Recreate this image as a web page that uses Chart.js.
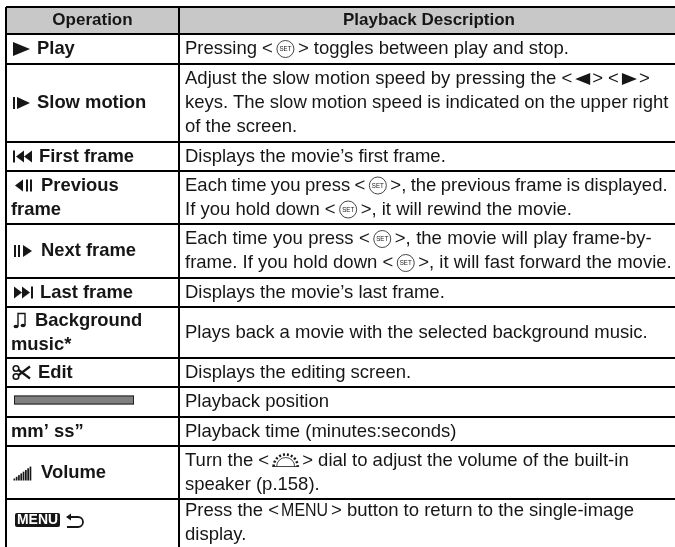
<!DOCTYPE html>
<html>
<head>
<meta charset="utf-8">
<style>
    html, body { margin: 0; padding: 0; background: #fff; }
    canvas { display: block; }
</style>
<script src="https://cdn.jsdelivr.net/npm/chart.js@4"></script>
</head>
<body>
<canvas id="tableChart" width="675" height="547"></canvas>
<script>
// table rules
const rowEdges = [7, 34, 64, 142, 171, 224, 278, 307, 358, 387, 417, 446, 499, 547];
const columnEdges = [6, 179];

const headers = ['Operation', 'Playback Description'];
const operationIcons = ['play', 'slow', 'first', 'prev', 'next', 'last', 'music', 'edit', 'bar', '', 'volume', 'menu'];
const operationLabels = [
    ['Play'],
    ['Slow motion'],
    ['First frame'],
    ['Previous', 'frame'],
    ['Next frame'],
    ['Last frame'],
    ['Background', 'music*'],
    ['Edit'],
    [],
    ['mm\u2019 ss\u201d'],
    ['Volume'],
    []
];
const descriptions = [
    ['Pressing <{set}> toggles between play and stop.'],
    ['Adjust the slow motion speed by pressing the <{left}> <{right}>', 'keys. The slow motion speed is indicated on the upper right', 'of the screen.'],
    ['Displays the movie\u2019s first frame.'],
    ['Each time you press <{set}>, the previous frame is displayed.', 'If you hold down <{set}>, it will rewind the movie.'],
    ['Each time you press <{set}>, the movie will play frame-by-', 'frame. If you hold down <{set}>, it will fast forward the movie.'],
    ['Displays the movie\u2019s last frame.'],
    ['Plays back a movie with the selected background music.'],
    ['Displays the editing screen.'],
    ['Playback position'],
    ['Playback time (minutes:seconds)'],
    ['Turn the <{dial}> dial to adjust the volume of the built-in', 'speaker (p.158).'],
    ['Press the <{menu}> button to return to the single-image', 'display.']
];

const INK = '#161616';
const BODY_FONT = '18.5px "Liberation Sans", Arial, sans-serif';
const BOLD_FONT = 'bold 18.4px "Liberation Sans", Arial, sans-serif';
const HEADER_FONT = 'bold 17px "Liberation Sans", Arial, sans-serif';
const LINE_HEIGHT = 24;

// the source is justified a bit differently per line
const wordSpacingFix = {
    'Each time you press <{set}>, the previous frame is displayed.': '-0.8px',
    'Each time you press <{set}>, the movie will play frame-by-': '0.3px',
    'keys. The slow motion speed is indicated on the upper right': '-0.3px'
};

const tri = (ctx, x0, x1, cy, h) => {
    ctx.beginPath();
    ctx.moveTo(x0, cy - h);
    ctx.lineTo(x1, cy);
    ctx.lineTo(x0, cy + h);
    ctx.closePath();
    ctx.fill();
};

// little camera symbols, x is the left edge and cy the middle of the text line
const icons = {
    play: { width: 25, draw: (ctx, x, cy) => tri(ctx, x + 1, x + 18, cy, 7) },
    slow: { width: 25, draw: (ctx, x, cy) => {
        ctx.fillRect(x + 1, cy - 6, 2, 12);
        tri(ctx, x + 5, x + 18, cy, 6);
    } },
    first: { width: 27, draw: (ctx, x, cy) => {
        ctx.fillRect(x + 1, cy - 6, 2, 12);
        tri(ctx, x + 12, x + 4, cy, 6);
        tri(ctx, x + 20, x + 12, cy, 6);
    } },
    prev: { width: 29, draw: (ctx, x, cy) => {
        tri(ctx, x + 11, x + 3, cy, 6);
        ctx.fillRect(x + 14, cy - 6, 2, 12);
        ctx.fillRect(x + 18, cy - 6, 2, 12);
    } },
    next: { width: 29, draw: (ctx, x, cy) => {
        ctx.fillRect(x + 2, cy - 6, 2, 12);
        ctx.fillRect(x + 6, cy - 6, 2, 12);
        tri(ctx, x + 11, x + 20, cy, 6);
    } },
    last: { width: 28, draw: (ctx, x, cy) => {
        tri(ctx, x + 2, x + 10, cy, 6);
        tri(ctx, x + 10, x + 18, cy, 6);
        ctx.fillRect(x + 19, cy - 6, 2, 12);
    } },
    music: { width: 23, draw: (ctx, x, cy) => {
        ctx.lineWidth = 1.4;
        ctx.strokeStyle = INK;
        ctx.beginPath();
        ctx.moveTo(x + 6, cy + 6);
        ctx.lineTo(x + 6, cy - 7);
        ctx.lineTo(x + 13, cy - 7);
        ctx.lineTo(x + 13, cy + 5);
        ctx.stroke();
        ctx.beginPath();
        ctx.ellipse(x + 4, cy + 6, 2.5, 1.8, 0, 0, Math.PI * 2);
        ctx.ellipse(x + 11, cy + 5, 2.5, 1.8, 0, 0, Math.PI * 2);
        ctx.fill();
    } },
    edit: { width: 26, draw: (ctx, x, cy) => {
        ctx.lineWidth = 2.2;
        ctx.strokeStyle = INK;
        ctx.beginPath();
        ctx.moveTo(x + 18, cy - 6);
        ctx.lineTo(x + 6, cy + 3);
        ctx.moveTo(x + 18, cy + 6);
        ctx.lineTo(x + 6, cy - 3);
        ctx.stroke();
        ctx.lineWidth = 1.6;
        ctx.beginPath();
        ctx.arc(x + 4, cy - 4, 2.8, 0, Math.PI * 2);
        ctx.moveTo(x + 6.8, cy + 4);
        ctx.arc(x + 4, cy + 4, 2.8, 0, Math.PI * 2);
        ctx.stroke();
    } },
    bar: { width: 120, draw: (ctx, x, cy) => {
        cy -= 2;
        ctx.fillStyle = '#7f7f7f';
        ctx.fillRect(x + 2, cy - 4.5, 120, 9);
        ctx.strokeStyle = '#222';
        ctx.lineWidth = 1;
        ctx.strokeRect(x + 2.5, cy - 4, 119, 8);
    } },
    volume: { width: 29, draw: (ctx, x, cy) => {
        for (let i = 0; i < 8; i++) {
            const h = 2 + i * 1.7;
            ctx.fillRect(x + 1.5 + i * 2.3, cy + 8 - h, 1.7, h);
        }
    } },
    menu: { width: 70, draw: (ctx, x, cy) => {
        cy -= 3;
        ctx.beginPath();
        ctx.roundRect(x + 3, cy - 7, 45, 14, 2);
        ctx.fill();
        ctx.fillStyle = '#fff';
        ctx.font = 'bold 14px "Liberation Sans", sans-serif';
        ctx.fillText('MENU', x + 5, cy + 0.5, 41);
        ctx.strokeStyle = INK;
        ctx.lineWidth = 1.8;
        ctx.beginPath();
        ctx.moveTo(x + 57, cy - 3);
        ctx.lineTo(x + 66, cy - 3);
        ctx.arc(x + 66, cy + 2, 5, -Math.PI / 2, Math.PI / 2);
        ctx.lineTo(x + 55, cy + 7);
        ctx.stroke();
        ctx.fillStyle = INK;
        tri(ctx, x + 59, x + 54, cy - 3, 3.5);
    } }
};

// symbols that sit inside a description line
const inlineTokens = {
    set: { width: 25, draw: (ctx, x, cy) => {
        ctx.strokeStyle = INK;
        ctx.lineWidth = 0.8;
        ctx.beginPath();
        ctx.arc(x + 12.5, cy, 8.5, 0, Math.PI * 2);
        ctx.stroke();
        ctx.save();
        ctx.font = '7px "Liberation Sans", sans-serif';
        ctx.textAlign = 'center';
        ctx.fillText('SET', x + 12.5, cy + 0.5, 12);
        ctx.restore();
    } },
    left: { width: 20, draw: (ctx, x, cy) => tri(ctx, x + 18, x + 3, cy, 6) },
    right: { width: 20, draw: (ctx, x, cy) => tri(ctx, x + 3, x + 18, cy, 6) },
    dial: { width: 33, draw: (ctx, x, cy) => {
        ctx.strokeStyle = INK;
        ctx.lineWidth = 0.8;
        ctx.beginPath();
        ctx.moveTo(x + 3, cy + 6);
        ctx.lineTo(x + 30, cy + 6);
        ctx.moveTo(x + 25.5, cy + 6);
        ctx.arc(x + 16.5, cy + 6, 9, 0, Math.PI, true);
        ctx.stroke();
        ctx.setLineDash([2, 2]);
        ctx.lineWidth = 2.5;
        ctx.beginPath();
        ctx.arc(x + 16.5, cy + 6, 12, Math.PI, 0);
        ctx.stroke();
        ctx.setLineDash([]);
    } },
    menu: { width: 52, draw: (ctx, x, cy) => {
        ctx.save();
        ctx.font = '18px "Liberation Sans", sans-serif';
        ctx.fillText('MENU', x + 2, cy, 47);
        ctx.restore();
    } }
};

const drawInline = (ctx, line, x, cy) => {
    ctx.wordSpacing = wordSpacingFix[line] || '0px';
    line.split(/(\{\w+\})/).forEach((part) => {
        const token = part.match(/^\{(\w+)\}$/);
        if (token) {
            const t = inlineTokens[token[1]];
            ctx.save();
            t.draw(ctx, x, cy);
            ctx.restore();
            x += t.width;
        } else if (part) {
            ctx.fillText(part, x, cy);
            x += ctx.measureText(part).width;
        }
    });
    ctx.wordSpacing = '0px';
};

const tableText = {
    id: 'tableText',
    afterDraw(chart) {
        const { ctx, scales: { x, y } } = chart;
        const mid = (i) => (y.getPixelForValue(rowEdges[i]) + y.getPixelForValue(rowEdges[i + 1])) / 2;
        const left = x.getPixelForValue(columnEdges[0]);
        const split = x.getPixelForValue(columnEdges[1]);

        ctx.save();
        ctx.fillStyle = INK;
        ctx.textBaseline = 'middle';

        ctx.font = HEADER_FONT;
        ctx.textAlign = 'center';
        ctx.fillText(headers[0], (left + split) / 2, mid(0));
        ctx.fillText(headers[1], (split + chart.chartArea.right) / 2 + 2, mid(0));
        ctx.textAlign = 'left';

        descriptions.forEach((lines, r) => {
            const cy = mid(r + 1);
            const top = cy - (lines.length - 1) * LINE_HEIGHT / 2;

            ctx.font = BODY_FONT;
            lines.forEach((line, i) => drawInline(ctx, line, split + 6, top + i * LINE_HEIGHT));

            ctx.font = BOLD_FONT;
            const labels = operationLabels[r];
            const labelTop = cy - (Math.max(labels.length, 1) - 1) * LINE_HEIGHT / 2;
            const icon = icons[operationIcons[r]];
            if (icon) {
                ctx.save();
                icon.draw(ctx, left + 6, labelTop);
                ctx.restore();
            }
            labels.forEach((label, i) => {
                const indent = i === 0 && icon ? icon.width + 6 : 5;
                ctx.fillText(label, left + indent, labelTop + i * LINE_HEIGHT);
            });
        });
        ctx.restore();
    }
};

const canvas = document.getElementById('tableChart');

const ruleAxis = (min, max, edges) => ({
    type: 'linear',
    min: min,
    max: max,
    // rules only where the table has them, nothing on the cut off bottom edge
    afterBuildTicks: (axis) => { axis.ticks = edges.filter((value) => value < max).map((value) => ({ value })); },
    ticks: { display: false },
    border: { display: false },
    grid: { color: '#000', lineWidth: 2, drawTicks: false, z: 1 }
});

new Chart(canvas.getContext('2d'), {
    type: 'scatter',
    data: {
        datasets: [{
            // header band
            type: 'line',
            data: [{ x: columnEdges[0], y: rowEdges[1] }, { x: 675, y: rowEdges[1] }],
            fill: { value: rowEdges[0] },
            backgroundColor: '#c8c8c8',
            borderWidth: 0,
            pointRadius: 0
        }]
    },
    options: {
        responsive: false,
        animation: false,
        layout: { padding: { left: columnEdges[0], top: rowEdges[0] } },
        plugins: { legend: { display: false }, tooltip: { enabled: false } },
        scales: {
            x: ruleAxis(columnEdges[0], 675, columnEdges),
            y: { ...ruleAxis(rowEdges[0], 547, rowEdges), reverse: true }
        }
    },
    plugins: [tableText]
});
</script>
</body>
</html>
